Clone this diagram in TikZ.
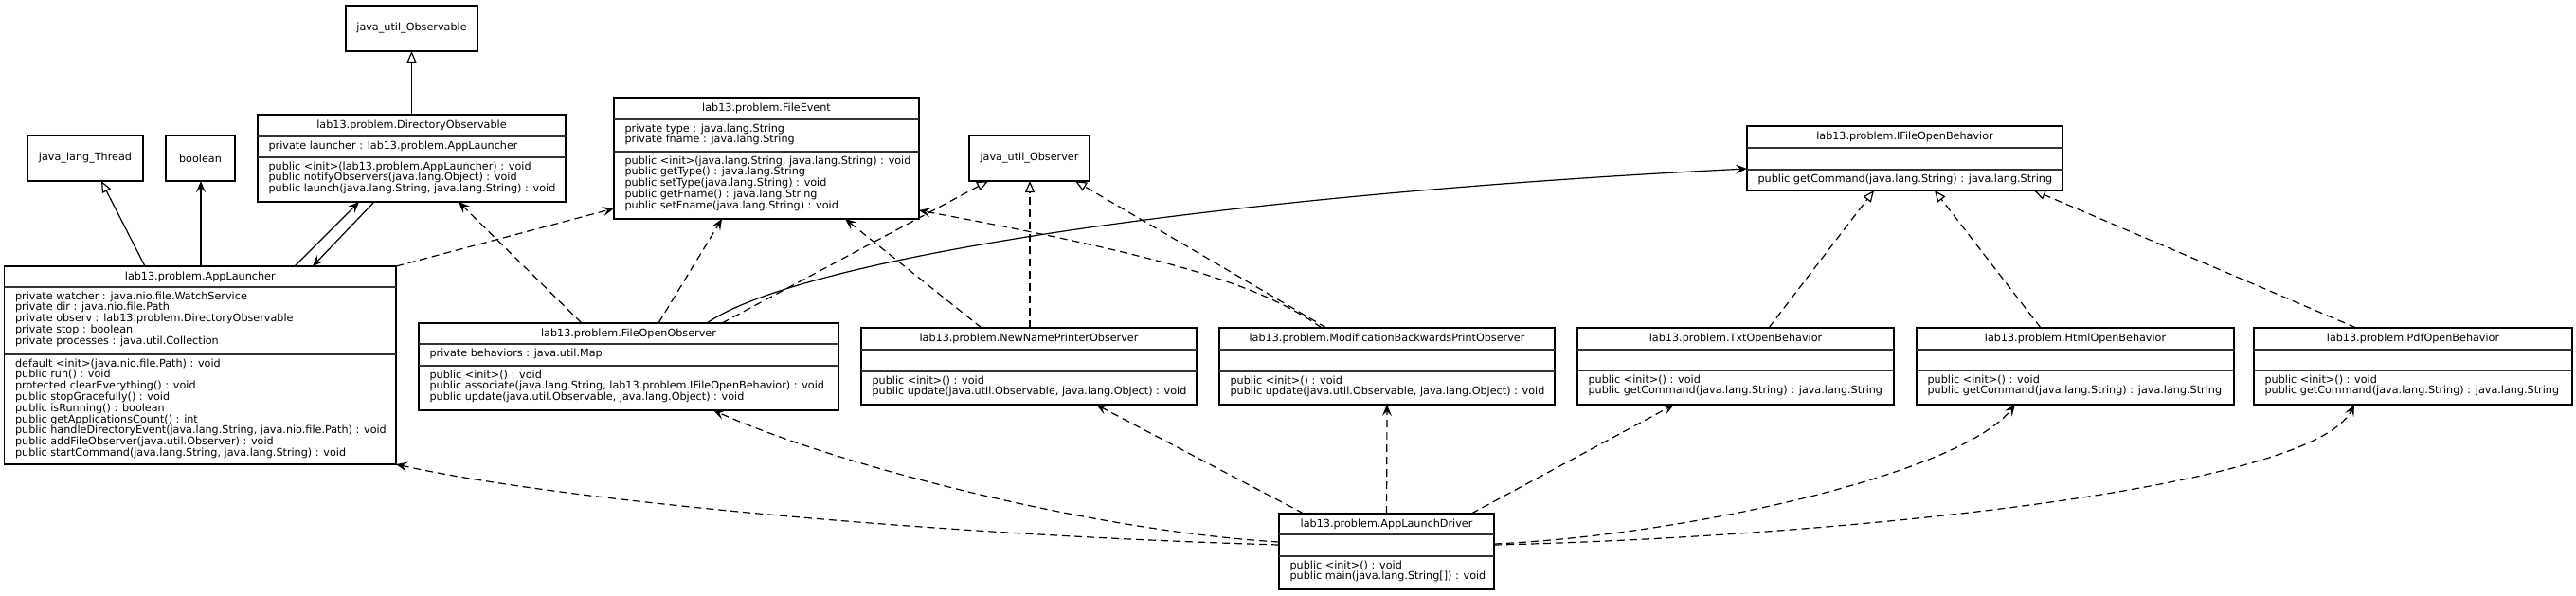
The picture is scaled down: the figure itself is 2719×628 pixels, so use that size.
\documentclass[tikz,border=0pt]{standalone}
\usepackage{fontspec}
\setmainfont{DejaVu Sans}
\usetikzlibrary{arrows.meta}

\tikzset{every picture/.style={line width=0.6pt}}
\tikzset{
  classbox/.style={draw, line width=0.75pt, inner sep=0pt, outer sep=0pt, font=\fontsize{5.6}{5.9}\selectfont},
  titletext/.style={inner sep=0pt, font=\fontsize{5.6}{5.9}\selectfont},
  membertext/.style={anchor=north west, align=left, inner sep=0pt, xshift=5.5pt, font=\fontsize{5.6}{5.9}\selectfont},
  divider/.style={line width=0.75pt, draw=black!80},
  depend/.style={dash pattern={on 4pt off 2.5pt}, -{Stealth[length=6pt,width=5pt,inset=2.5pt]}},
  assoc/.style={-{Stealth[length=6pt,width=5pt,inset=2.5pt]}},
  extends/.style={-{Triangle[open,length=6pt,width=5pt]}},
  realizes/.style={dash pattern={on 4pt off 2.5pt}, -{Triangle[open,length=6pt,width=5pt]}},
}

\begin{document}
\begin{tikzpicture}[x=0.5pt,y=0.5pt,yscale=-1,xscale=1]
\useasboundingbox (0,0) rectangle (2719,628);

%Shape: Rectangle
\node [classbox, minimum width=69.5pt, minimum height=24pt] (observable) at (434.5,30) {java\_util\_Observable};
%Shape: Rectangle
\node [classbox, minimum width=61pt, minimum height=24pt] (thread) at (90,167) {java\_lang\_Thread};
%Shape: Rectangle
\node [classbox, minimum width=36.5pt, minimum height=24pt] (boolean) at (211.5,167) {boolean};
%Shape: Rectangle
\node [classbox, minimum width=63.5pt, minimum height=24pt] (observer) at (1086.5,167) {java\_util\_Observer};

%Shape: Rectangle
\node [classbox, minimum width=162.5pt, minimum height=46pt] (dirobs) at (434.5,167) {};
\draw [divider] (dirobs.west |- 0,144) -- (dirobs.east |- 0,144);
\draw [divider] (dirobs.west |- 0,166) -- (dirobs.east |- 0,166);
% Text Node
\node [titletext] at (dirobs.north |- 0,132.5) {lab13.problem.DirectoryObservable};
% Text Node
\node [membertext] at (dirobs.west |- 0,148) {private launcher : lab13.problem.AppLauncher};
% Text Node
\node [membertext] at (dirobs.west |- 0,170) {public <init>(lab13.problem.AppLauncher) : void\\
public notifyObservers(java.lang.Object) : void\\
public launch(java.lang.String, java.lang.String) : void};

%Shape: Rectangle
\node [classbox, minimum width=206.75pt, minimum height=104.5pt] (applauncher) at (211.25,385.5) {};
\draw [divider] (applauncher.west |- 0,303) -- (applauncher.east |- 0,303);
\draw [divider] (applauncher.west |- 0,374) -- (applauncher.east |- 0,374);
% Text Node
\node [titletext] at (applauncher.north |- 0,292) {lab13.problem.AppLauncher};
% Text Node
\node [membertext] at (applauncher.west |- 0,307) {private watcher : java.nio.file.WatchService\\
private dir : java.nio.file.Path\\
private observ : lab13.problem.DirectoryObservable\\
private stop : boolean\\
private processes : java.util.Collection};
% Text Node
\node [membertext] at (applauncher.west |- 0,378) {default <init>(java.nio.file.Path) : void\\
public run() : void\\
protected clearEverything() : void\\
public stopGracefully() : void\\
public isRunning() : boolean\\
public getApplicationsCount() : int\\
public handleDirectoryEvent(java.lang.String, java.nio.file.Path) : void\\
public addFileObserver(java.util.Observer) : void\\
public startCommand(java.lang.String, java.lang.String) : void};

%Shape: Rectangle
\node [classbox, minimum width=161pt, minimum height=64pt] (fileevent) at (809,167) {};
\draw [divider] (fileevent.west |- 0,126) -- (fileevent.east |- 0,126);
\draw [divider] (fileevent.west |- 0,160) -- (fileevent.east |- 0,160);
% Text Node
\node [titletext] at (fileevent.north |- 0,114.5) {lab13.problem.FileEvent};
% Text Node
\node [membertext] at (fileevent.west |- 0,130) {private type : java.lang.String\\
private fname : java.lang.String};
% Text Node
\node [membertext] at (fileevent.west |- 0,164) {public <init>(java.lang.String, java.lang.String) : void\\
public getType() : java.lang.String\\
public setType(java.lang.String) : void\\
public getFname() : java.lang.String\\
public setFname(java.lang.String) : void};

%Shape: Rectangle
\node [classbox, minimum width=166.5pt, minimum height=34pt] (ifob) at (2010.5,167) {};
\draw [divider] (ifob.west |- 0,156) -- (ifob.east |- 0,156);
\draw [divider] (ifob.west |- 0,179) -- (ifob.east |- 0,179);
% Text Node
\node [titletext] at (ifob.north |- 0,144.5) {lab13.problem.IFileOpenBehavior};
% Text Node
\node [membertext] at (ifob.west |- 0,183) {public getCommand(java.lang.String) : java.lang.String};

%Shape: Rectangle
\node [classbox, minimum width=221.5pt, minimum height=46pt] (foo) at (663.5,387) {};
\draw [divider] (foo.west |- 0,363) -- (foo.east |- 0,363);
\draw [divider] (foo.west |- 0,386) -- (foo.east |- 0,386);
% Text Node
\node [titletext] at (foo.north |- 0,352) {lab13.problem.FileOpenObserver};
% Text Node
\node [membertext] at (foo.west |- 0,367) {private behaviors : java.util.Map};
% Text Node
\node [membertext] at (foo.west |- 0,390) {public <init>() : void\\
public associate(java.lang.String, lab13.problem.IFileOpenBehavior) : void\\
public update(java.util.Observable, java.lang.Object) : void};

%Shape: Rectangle
\node [classbox, minimum width=177pt, minimum height=40.5pt] (newname) at (1086,386.5) {};
\draw [divider] (newname.west |- 0,369) -- (newname.east |- 0,369);
\draw [divider] (newname.west |- 0,392) -- (newname.east |- 0,392);
% Text Node
\node [titletext] at (newname.north |- 0,357.5) {lab13.problem.NewNamePrinterObserver};
% Text Node
\node [membertext] at (newname.west |- 0,396) {public <init>() : void\\
public update(java.util.Observable, java.lang.Object) : void};

%Shape: Rectangle
\node [classbox, minimum width=177pt, minimum height=40.5pt] (modprint) at (1464,386.5) {};
\draw [divider] (modprint.west |- 0,369) -- (modprint.east |- 0,369);
\draw [divider] (modprint.west |- 0,392) -- (modprint.east |- 0,392);
% Text Node
\node [titletext] at (modprint.north |- 0,357.5) {lab13.problem.ModificationBackwardsPrintObserver};
% Text Node
\node [membertext] at (modprint.west |- 0,396) {public <init>() : void\\
public update(java.util.Observable, java.lang.Object) : void};

%Shape: Rectangle
\node [classbox, minimum width=167pt, minimum height=40.5pt] (txtopen) at (1832,386.5) {};
\draw [divider] (txtopen.west |- 0,369) -- (txtopen.east |- 0,369);
\draw [divider] (txtopen.west |- 0,391) -- (txtopen.east |- 0,391);
% Text Node
\node [titletext] at (txtopen.north |- 0,357.5) {lab13.problem.TxtOpenBehavior};
% Text Node
\node [membertext] at (txtopen.west |- 0,395) {public <init>() : void\\
public getCommand(java.lang.String) : java.lang.String};

%Shape: Rectangle
\node [classbox, minimum width=167.5pt, minimum height=40.5pt] (htmlopen) at (2190.5,386.5) {};
\draw [divider] (htmlopen.west |- 0,369) -- (htmlopen.east |- 0,369);
\draw [divider] (htmlopen.west |- 0,391) -- (htmlopen.east |- 0,391);
% Text Node
\node [titletext] at (htmlopen.north |- 0,357.5) {lab13.problem.HtmlOpenBehavior};
% Text Node
\node [membertext] at (htmlopen.west |- 0,395) {public <init>() : void\\
public getCommand(java.lang.String) : java.lang.String};

%Shape: Rectangle
\node [classbox, minimum width=168pt, minimum height=40.5pt] (pdfopen) at (2547,386.5) {};
\draw [divider] (pdfopen.west |- 0,369) -- (pdfopen.east |- 0,369);
\draw [divider] (pdfopen.west |- 0,391) -- (pdfopen.east |- 0,391);
% Text Node
\node [titletext] at (pdfopen.north |- 0,357.5) {lab13.problem.PdfOpenBehavior};
% Text Node
\node [membertext] at (pdfopen.west |- 0,395) {public <init>() : void\\
public getCommand(java.lang.String) : java.lang.String};

%Shape: Rectangle
\node [classbox, minimum width=113.5pt, minimum height=40pt] (driver) at (1463.5,582) {};
\draw [divider] (driver.west |- 0,564) -- (driver.east |- 0,564);
\draw [divider] (driver.west |- 0,587) -- (driver.east |- 0,587);
% Text Node
\node [titletext] at (driver.north |- 0,553) {lab13.problem.AppLaunchDriver};
% Text Node
\node [membertext] at (driver.west |- 0,591) {public <init>() : void\\
public main(java.lang.String[]) : void};

%Straight Lines
\draw [extends] (dirobs.north) -- (observable.south);
\draw [extends] (applauncher.north -| 153,0) -- (thread.south -| 107,0);
\draw [assoc] (applauncher.north -| 212,0) -- (boolean.south -| 212,0);
\draw [assoc] (applauncher.north -| 311,0) -- (dirobs.south -| 379,0);
\draw [assoc] (dirobs.south -| 395,0) -- (applauncher.north -| 330,0);
\draw [depend] (applauncher.north east) -- (fileevent.west |- 0,220);
\draw [depend] (foo.north -| 614,0) -- (dirobs.south -| 484,0);
\draw [depend] (foo.north -| 695,0) -- (fileevent.south -| 762,0);
\draw [realizes] (foo.north -| 762,0) -- (observer.south -| 1043,0);
\draw [depend] (newname.north -| 1036,0) -- (fileevent.south -| 892,0);
\draw [realizes] (newname.north -| 1087,0) -- (observer.south -| 1087,0);
\draw [realizes] (modprint.north -| 1400,0) -- (observer.south -| 1135,0);
\draw [realizes] (txtopen.north -| 1867,0) -- (ifob.south -| 1978,0);
\draw [realizes] (htmlopen.north -| 2154,0) -- (ifob.south -| 2042,0);
\draw [realizes] (pdfopen.north -| 2487,0) -- (ifob.south -| 2147,0);
\draw [depend] (driver.north -| 1376,0) -- (newname.south -| 1157,0);
\draw [depend] (driver.north) -- (modprint.south);
\draw [depend] (driver.north -| 1553,0) -- (txtopen.south -| 1767,0);

%Curve Lines
\draw [assoc] (foo.north -| 746,0) .. controls (850,270) and (1300,205) .. (ifob.west |- 0,178);
\draw [depend] (modprint.north -| 1395,0) .. controls (1330,300) and (1230,270) .. (fileevent.east |- 0,222);
\draw [depend] (driver.west |- 0,575) .. controls (1000,565) and (600,530) .. (applauncher.south east);
\draw [depend] (driver.west |- 0,572) .. controls (1150,560) and (880,490) .. (foo.south -| 753,0);
\draw [depend] (driver.east |- 0,574) .. controls (1780,565) and (2070,500) .. (htmlopen.south -| 2127,0);
\draw [depend] (driver.east |- 0,575) .. controls (1900,568) and (2440,520) .. (pdfopen.south -| 2485,0);

\end{tikzpicture}
\end{document}
